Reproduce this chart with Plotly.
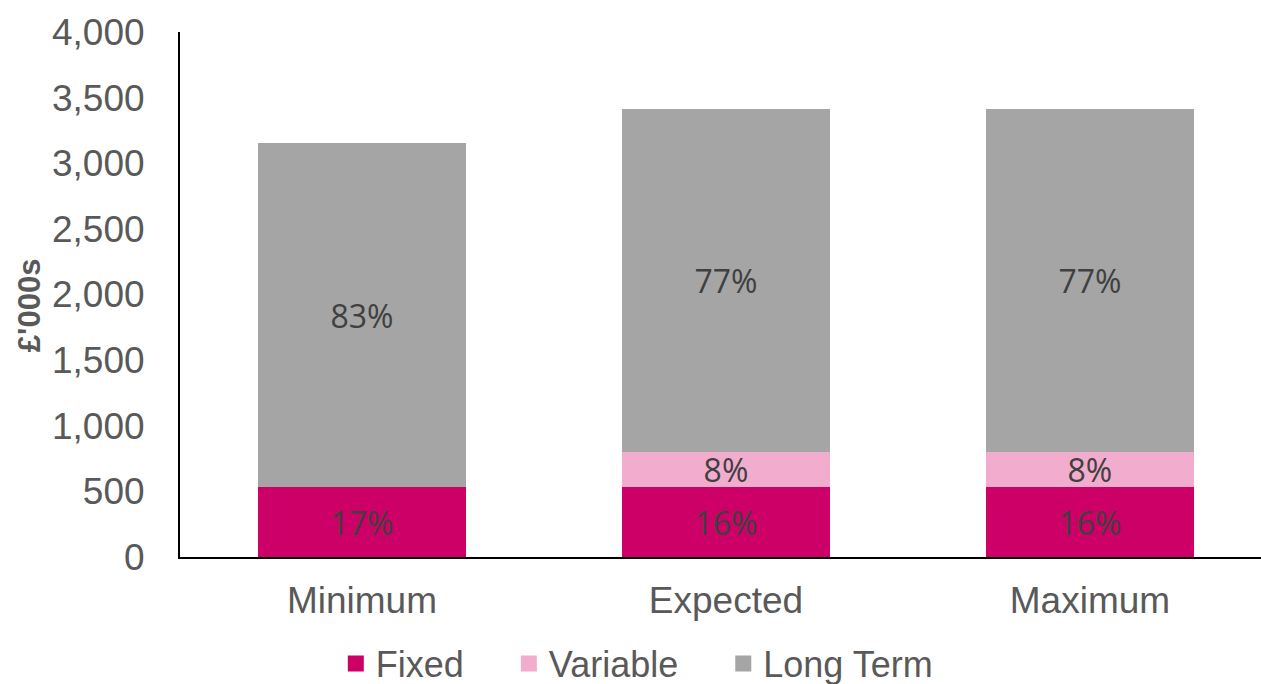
import plotly.graph_objects as go

categories = ["Minimum", "Expected", "Maximum"]
fixed = [533, 533, 533]
variable = [0, 267, 267]
long_term = [2621, 2613, 2613]
fixed_lbl = ["17%", "16%", "16%"]
variable_lbl = ["", "8%", "8%"]
long_lbl = ["83%", "77%", "77%"]
y_ticks = [0, 500, 1000, 1500, 2000, 2500, 3000, 3500, 4000]
series_names = ["Fixed", "Variable", "Long Term"]
series_colors = ["#CC0066", "#F2ACCD", "#A5A5A5"]

label_font = dict(family="Open Sans, Noto Sans, sans-serif", size=32, color="#404040")

fig = go.Figure()
for name, vals, lbls, col in zip(series_names, [fixed, variable, long_term],
                                 [fixed_lbl, variable_lbl, long_lbl], series_colors):
    fig.add_trace(go.Bar(
        name=name, x=categories, y=vals, text=lbls,
        marker=dict(color=col, line=dict(width=0)),
        textposition="inside", insidetextanchor="middle",
        textfont=label_font, insidetextfont=label_font,
        constraintext="none", width=0.571,
        hoverinfo="skip", showlegend=False,
    ))
# legend entries with larger square swatches
pad = "\u00a0" * 4
for i, (name, col) in enumerate(zip(series_names, series_colors)):
    fig.add_trace(go.Scatter(
        name=name + (pad if i < len(series_names) - 1 else ""),
        x=[None], y=[None], mode="markers",
        marker=dict(symbol="square", size=19, color=col),
        showlegend=True, hoverinfo="skip",
    ))

fig.update_layout(
    barmode="stack",
    width=1261, height=684,
    margin=dict(l=180, r=0, t=32, b=127),
    plot_bgcolor="white", paper_bgcolor="white",
    font=dict(family="Liberation Sans, Arial, sans-serif", color="#595959"),
    showlegend=True,
    legend=dict(orientation="h", xref="container", yref="container",
                x=0.505, xanchor="center", y=0.03, yanchor="middle",
                font=dict(size=36, color="#595959"),
                itemsizing="trace", traceorder="normal",
                tracegroupgap=0, itemwidth=30),
    annotations=[dict(
        text="<b>£'000s</b>", xref="paper", yref="paper",
        x=-0.1395, y=0.48, xanchor="center", yanchor="middle", textangle=-90,
        showarrow=False, font=dict(size=31, color="#595959"),
    )],
)
fig.update_xaxes(
    range=[-0.5, 2.47], showline=True, linecolor="black", linewidth=2,
    ticks="", tickfont=dict(size=37, color="#595959"),
    showgrid=False, ticklabelstandoff=10,
)
fig.update_yaxes(
    range=[0, 4000], tickvals=y_ticks, tickformat=",d",
    showline=True, linecolor="black", linewidth=2,
    showgrid=False, zeroline=False, ticks="",
    tickfont=dict(size=37, color="#595959"),
    ticklabelstandoff=26,
)

fig.write_html("out.html")
